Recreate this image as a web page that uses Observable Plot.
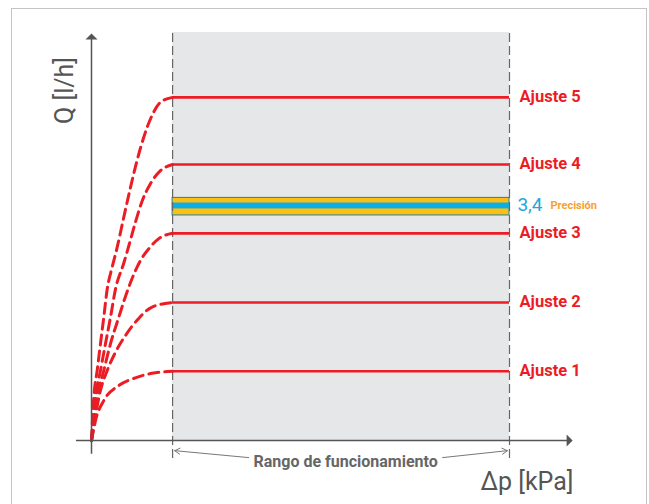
<!DOCTYPE html>
<html>
<head>
<meta charset="utf-8">
<script src="https://cdn.jsdelivr.net/npm/d3@7"></script>
<script src="https://cdn.jsdelivr.net/npm/@observablehq/plot@0.6"></script>
<style>
  html, body { margin: 0; padding: 0; background: #fff; overflow: hidden; }
  #wrap { position: relative; width: 649px; height: 504px; overflow: hidden; }
  #frame { position: absolute; left: 11px; top: 8px; width: 634px; height: 620px;
           border: 1.6px solid #c4c4c4; pointer-events: none; }
</style>
</head>
<body>
<div id="wrap"><div id="frame"></div></div>
<script>
// ---- data (arbitrary units: Δp on x, Q on y) ----
const settings = ["Ajuste 1", "Ajuste 2", "Ajuste 3", "Ajuste 4", "Ajuste 5"];
const flowLevels = [17, 33.9, 50.9, 67.8, 84.3];
const rangeStart = 19.4;   // start of the working range (Δp)
const rangeEnd = 100;      // end of the working range (Δp)
const rangeLabel = "Rango de funcionamiento";
const precisionSetting = "3,4";
const precisionLabel = "Precisión";
const precisionBandOuter = [55.3, 59.6];
const precisionBandInner = [56.9, 58.35];
const xTitle = "Δp [kPa]";
const yTitle = "Q [l/h]";

// start-up curves, one per setting
const curve1 = [[0,0],[0.96,4.9],[2.94,9.8],[6.53,13.5],[10.5,15.4],[14.5,16.5],[19.4,17]];
const curve2 = [[0,0],[2.15,12.3],[3.76,17.2],[5.74,21.7],[8.13,25.8],[11.3,30.0],[14.5,32.8],[19.4,33.9]];
const curve3 = [[0,0],[1.36,10.6],[2.94,17.2],[4.55,23.8],[6.53,30.3],[8.92,37.7],[11.7,44.2],[13.7,47.1],[16.1,49.6],[19.4,50.9]];
const curve4 = [[0,0],[0.96,10.6],[2.15,17.2],[3.35,23.8],[4.55,30.3],[5.74,37.2],[7.73,43.6],[8.92,47.8],[10.5,53.6],[12.1,58.8],[14.1,63.1],[16.5,66.3],[19.4,67.8]];
const curve5 = [[0,0],[0.55,10.6],[1.36,17.2],[2.15,23.8],[2.94,30.3],[3.76,37.2],[4.95,42.6],[6.15,47.5],[7.73,54.9],[9.33,62.2],[10.9,68.8],[12.5,74.5],[14.5,79.9],[16.5,83.1],[19.4,84.3]];
const curves = [curve1, curve2, curve3, curve4, curve5];

// ---- styling ----
const RED = "#ec1c24";
const AXIS = "#555";
const FONT = "Roboto, 'Noto Sans', sans-serif";

const upArrow = { draw(ctx) { ctx.moveTo(0, 0); ctx.lineTo(6, 6); ctx.lineTo(-6, 6); ctx.closePath(); } };
const rightArrow = { draw(ctx) { ctx.moveTo(0, 0); ctx.lineTo(-6, -6); ctx.lineTo(-6, 6); ctx.closePath(); } };

const levelRows = settings.map((s, i) => ({ label: s, q: flowLevels[i] }));

const chart = Plot.plot({
  width: 649,
  height: 504,
  margin: 0,
  style: { fontFamily: FONT, background: "transparent" },
  x: { domain: [0, 100], range: [91, 509], axis: null },
  y: { domain: [0, 100], range: [440, 33], axis: null },
  marks: [
    // working range background
    Plot.rect([0], { x1: rangeStart, x2: rangeEnd, y1: 0, y2: 100.25, fill: "#e6e7e8" }),
    // horizontal setting lines
    Plot.ruleY(levelRows, { y: "q", x1: rangeStart, x2: rangeEnd, stroke: RED, strokeWidth: 2.6 }),
    // precision band
    Plot.rect([0], { x1: rangeStart, x2: rangeEnd, y1: precisionBandOuter[0], y2: precisionBandOuter[1],
      fill: "#fdbf12", stroke: "#2f8a9c", strokeWidth: 1.1 }),
    Plot.rect([0], { x1: rangeStart, x2: rangeEnd, y1: precisionBandInner[0], y2: precisionBandInner[1],
      fill: "#0aaee8" }),
    // dashed range limits
    Plot.ruleX([rangeStart, rangeEnd], { y1: -4.4, y2: 100.25, stroke: "#666", strokeWidth: 1.2, strokeDasharray: "9,4" }),
    // start-up curves
    ...curves.map(c => Plot.line(c, { x: d => d[0], y: d => d[1], curve: "monotone-x",
      stroke: RED, strokeWidth: 3, strokeDasharray: "10,6" })),
    // axes
    Plot.ruleY([0], { x1: -3.6, x2: 114, stroke: AXIS, strokeWidth: 1.5 }),
    Plot.ruleX([0], { y1: -3.4, y2: 99, stroke: AXIS, strokeWidth: 1.5 }),
    Plot.dot([0], { x: 0, y: 100, symbol: upArrow, fill: AXIS, stroke: "none" }),
    Plot.dot([0], { x: 115.1, y: 0, symbol: rightArrow, fill: AXIS, stroke: "none" }),
    // working range bracket
    Plot.arrow([{ x1: 37.6, y1: -4.2, x2: 19.9, y2: -2.5 }, { x1: 84, y1: -4.2, x2: 99.5, y2: -2.5 }],
      { x1: "x1", y1: "y1", x2: "x2", y2: "y2", stroke: "#777", strokeWidth: 1, headLength: 9 }),
    Plot.text([rangeLabel], { x: 60.8, y: -5.3, text: d => d, fill: "#666", fontSize: 16, fontWeight: "bold" }),
    // setting labels
    Plot.text(levelRows, { x: 102.4, y: "q", text: "label", textAnchor: "start", dy: -1,
      fill: RED, fontSize: 16.5, fontWeight: "bold" }),
    Plot.text([precisionSetting], { x: 101.9, y: 57.9, text: d => d, textAnchor: "start",
      fill: "#1ba9e0", fontSize: 19 }),
    Plot.text([precisionLabel], { x: 109.8, y: 57.8, text: d => d, textAnchor: "start",
      fill: "#f7a12f", fontSize: 11, fontWeight: "bold" }),
    // axis titles
    Plot.text([xTitle], { x: 115.3, y: -10.3, text: d => d, textAnchor: "end", fill: AXIS, fontSize: 25 }),
    Plot.text([yTitle], { x: -6.3, y: 86, text: d => d, rotate: -90, fill: AXIS, fontSize: 25 })
  ]
});
document.getElementById("wrap").prepend(chart);
</script>
</body>
</html>
